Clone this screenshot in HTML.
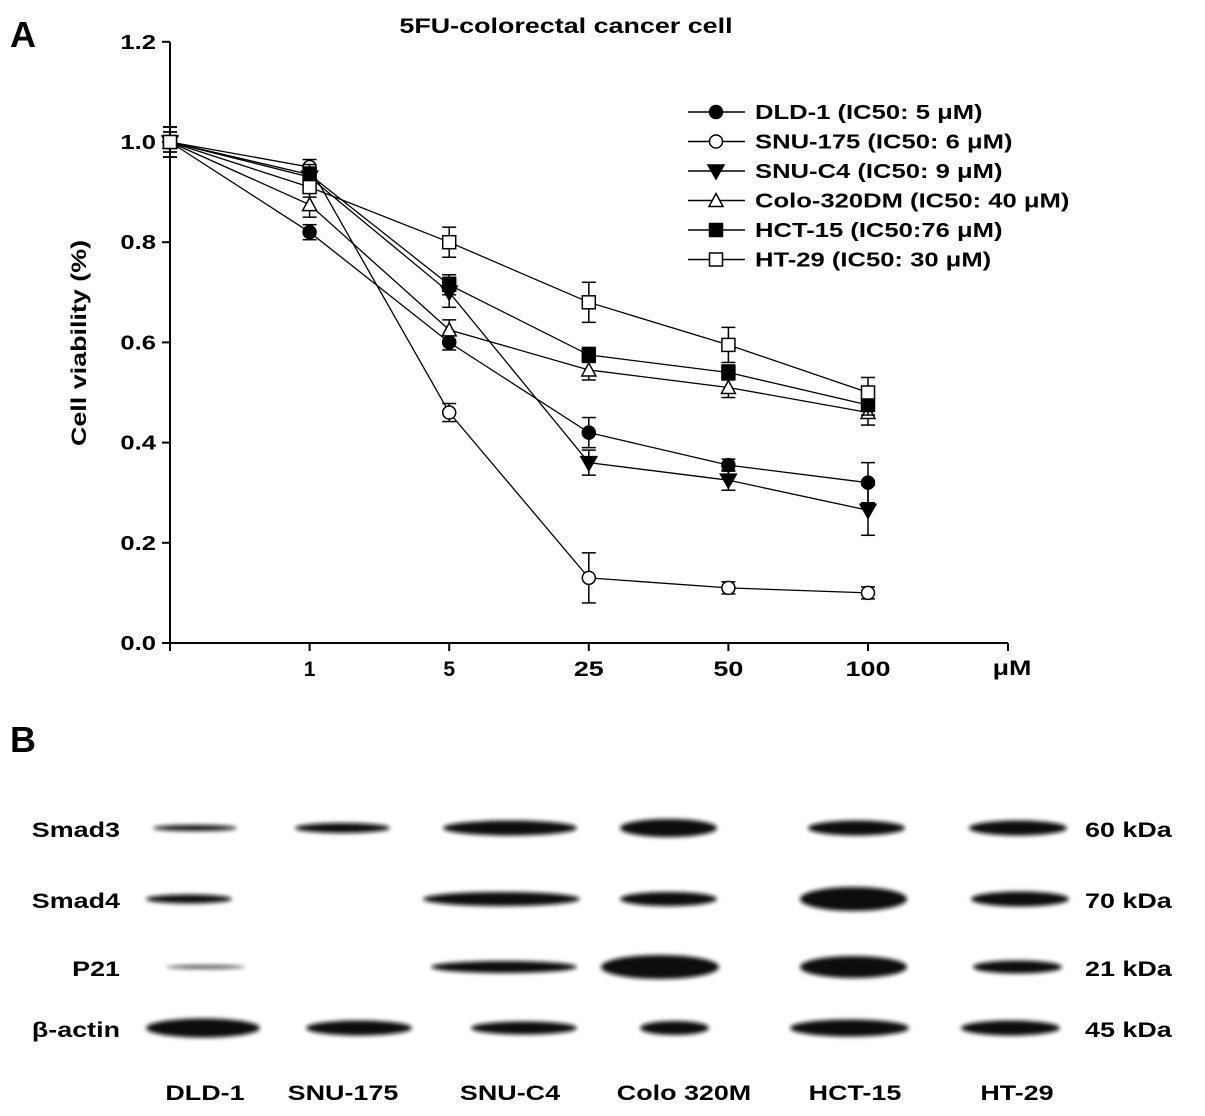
<!DOCTYPE html>
<html><head><meta charset="utf-8"><style>
body{margin:0;background:#fff;}
svg{display:block;font-family:"Liberation Sans",Arial,sans-serif;font-weight:bold;}
</style></head><body>
<svg id="c" width="1205" height="1116" viewBox="0 0 1205 1116">
<defs><filter id="bl" x="-20%" y="-100%" width="140%" height="300%"><feGaussianBlur stdDeviation="2"/></filter></defs>
<text x="10" y="47" font-size="36">A</text>
<text x="566" y="33" font-size="21" text-anchor="middle">5FU-colorectal cancer cell</text>
<text transform="translate(86,343) rotate(-90)" font-size="21" text-anchor="middle">Cell viability (%)</text>
<text x="1012" y="675" font-size="21" text-anchor="middle">μM</text>
<g id="axes"></g><g id="series"></g><g id="legend"></g>
<text x="10" y="752" font-size="36">B</text>
<g id="blot"></g>
</svg>
<script>
const xCats=["0","1","5","25","50","100"];
const yTicks=[0,0.2,0.4,0.6,0.8,1.0,1.2];
const seriesNames=["DLD-1 (IC50: 5 μM)","SNU-175 (IC50: 6 μM)","SNU-C4 (IC50: 9 μM)","Colo-320DM (IC50: 40 μM)","HCT-15 (IC50:76 μM)","HT-29 (IC50: 30 μM)"];
const markers=["circleF","circleO","triF","triO","sqF","sqO"];
const dld1=[1.0,0.82,0.60,0.42,0.355,0.32];
const snu175=[1.0,0.95,0.46,0.13,0.11,0.10];
const snuc4=[1.0,0.93,0.70,0.36,0.325,0.265];
const colo=[1.0,0.875,0.625,0.545,0.51,0.46];
const hct15=[1.0,0.935,0.715,0.575,0.54,0.475];
const ht29=[1.0,0.91,0.80,0.68,0.595,0.50];
const dld1Err=[0.02,0.015,0.015,0.03,0.012,0.04];
const snu175Err=[0.02,0.015,0.018,0.05,0.012,0.012];
const snuc4Err=[0.03,0.02,0.03,0.025,0.02,0.05];
const coloErr=[0.03,0.025,0.02,0.02,0.02,0.025];
const hct15Err=[0.03,0.02,0.02,0.015,0.015,0.02];
const ht29Err=[0.03,0.02,0.03,0.04,0.035,0.03];
const allSeries=[dld1,snu175,snuc4,colo,hct15,ht29];
const allErr=[dld1Err,snu175Err,snuc4Err,coloErr,hct15Err,ht29Err];
const NS="http://www.w3.org/2000/svg";
function mk(t,a,p){const e=document.createElementNS(NS,t);for(const k in a)e.setAttribute(k,a[k]);p.appendChild(e);return e;}
const xs=i=>170+i*139.6;
const ys=v=>643-v*501;
const ax=document.getElementById('axes');
let l=mk('line',{x1:170,y1:ys(0),x2:1008,y2:ys(0),stroke:'#000','stroke-width':2},ax);

l=mk('line',{x1:170,y1:ys(0),x2:170,y2:ys(1.2),stroke:'#000','stroke-width':2},ax);

yTicks.forEach(v=>{mk('line',{x1:162,x2:170,y1:ys(v),y2:ys(v),stroke:'#000','stroke-width':2},ax);
 const t=mk('text',{x:156,y:ys(v)+7,'font-size':20,'text-anchor':'end'},ax);t.textContent=v.toFixed(1);
 });
xCats.forEach((c,i)=>{mk('line',{x1:xs(i),x2:xs(i),y1:ys(0),y2:ys(0)+8,stroke:'#000','stroke-width':2},ax);
 if(i>0){const t=mk('text',{x:xs(i),y:676,'font-size':21,'text-anchor':'middle'},ax);t.textContent=c;
 }});
mk('line',{x1:1008,x2:1008,y1:ys(0),y2:ys(0)+8,stroke:'#000','stroke-width':2},ax);
function marker(m,x,y,p){
 const f=m.endsWith('F')?'#000':'#fff';const s={fill:f,stroke:'#000','stroke-width':1.5};
 if(m.startsWith('circle'))return mk('circle',Object.assign({cx:x,cy:y,r:6.5},s),p);
 if(m.startsWith('sq'))return mk('rect',Object.assign({x:x-6.5,y:y-6.5,width:13,height:13},s),p);
 if(m=='triF')return mk('polygon',Object.assign({points:`${x-8},${y-6} ${x+8},${y-6} ${x},${y+8}`},s),p);
 return mk('polygon',Object.assign({points:`${x-7},${y+6} ${x+7},${y+6} ${x},${y-7}`},s),p);}
const sg=document.getElementById('series');
allSeries.forEach((d,si)=>{
 const g=mk('g',{},sg);
 mk('polyline',{points:d.map((v,i)=>xs(i)+','+ys(v)).join(' '),fill:'none',stroke:'#000','stroke-width':1.3},g);
 d.forEach((v,i)=>{const e=allErr[si][i];
  mk('line',{x1:xs(i),x2:xs(i),y1:ys(v-e),y2:ys(v+e),stroke:'#000','stroke-width':1.5},g);
  mk('line',{x1:xs(i)-7,x2:xs(i)+7,y1:ys(v-e),y2:ys(v-e),stroke:'#000','stroke-width':1.5},g);
  mk('line',{x1:xs(i)-7,x2:xs(i)+7,y1:ys(v+e),y2:ys(v+e),stroke:'#000','stroke-width':1.5},g);});
 d.forEach((v,i)=>{const m=marker(markers[si],xs(i),ys(v),g);});
});
const lg=document.getElementById('legend');
seriesNames.forEach((n,i)=>{const y=112+i*29.5;
 const g=mk('g',{},lg);
 mk('line',{x1:688,x2:745,y1:y,y2:y,stroke:'#000','stroke-width':1.5},g);marker(markers[i],716,y,g);
 const t=mk('text',{x:755,y:y+7,'font-size':20},g);t.textContent=n;});
// Western blot
const lanes=["DLD-1","SNU-175","SNU-C4","Colo 320M","HCT-15","HT-29"];
const laneX=[205,343,510,684,855,1017];
const proteins=["Smad3","Smad4","P21","β-actin"];
const kda=["60 kDa","70 kDa","21 kDa","45 kDa"];
const rowY=[828,899,967,1028];
const bandL=[[150,292,440,617,805,966],[143,0,420,617,797,968],[163,0,428,598,797,970],[143,303,468,637,787,958]];
const bandR=[[240,393,580,720,908,1070],[235,0,583,720,910,1072],[248,0,580,722,910,1065],[263,415,580,712,912,1063]];
const bh=[[6,10,15,18,15,15],[9,0,14,14,24,15],[4,0,12,24,22,13],[19,15,13,14,17,15]];
const bg=document.getElementById('blot');
proteins.forEach((p,r)=>{
 let t=mk('text',{x:120,y:rowY[r]+9,'font-size':21,'text-anchor':'end'},bg);t.textContent=p;
 
 t=mk('text',{x:1085,y:rowY[r]+9,'font-size':21},bg);t.textContent=kda[r];
 
 lanes.forEach((ln,c)=>{if(!bh[r][c])return;
  const L=bandL[r][c],R=bandR[r][c];
  const e=mk('ellipse',{cx:(L+R)/2,cy:rowY[r],rx:(R-L)/2-3,ry:bh[r][c]/2,fill:r==2&&c==0?'#555':'#111',filter:'url(#bl)'},bg);
  });});
lanes.forEach((ln,c)=>{const t=mk('text',{x:laneX[c],y:1100,'font-size':21,'text-anchor':'middle'},bg);t.textContent=ln;
 });
// widen text to match reference typeface proportions
document.querySelectorAll('text').forEach(t=>{
 const n=t.getComputedTextLength();const f=t.textContent.length<=1?1:1.28;
 t.setAttribute('textLength',(n*f).toFixed(1));t.setAttribute('lengthAdjust','spacingAndGlyphs');});
</script>
</body></html>
